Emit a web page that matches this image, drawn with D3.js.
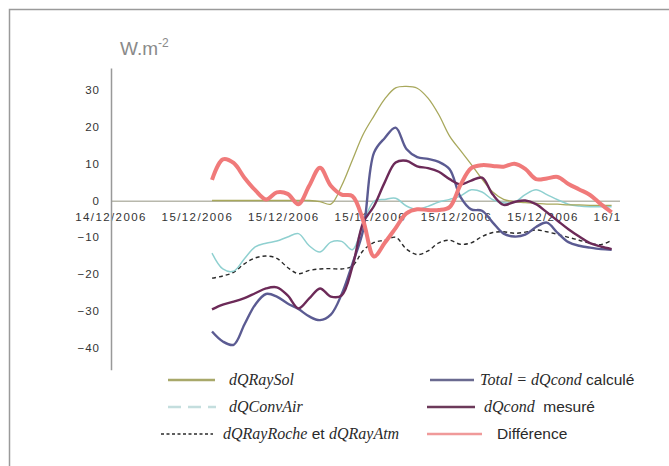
<!DOCTYPE html>
<html lang="fr">
<head>
<meta charset="UTF-8">
<title>dQ</title>
<script src="https://cdnjs.cloudflare.com/ajax/libs/d3/7.8.5/d3.min.js"></script>
<style>
  html, body { margin: 0; padding: 0; background: #fff; }
</style>
</head>
<body>
<div id="chart"></div>
<script>
// time in hours after the first tick (one tick every 4 h)
const hours = [4.7, 5.2, 5.7, 6.2, 6.7, 7.2, 7.7, 8.2, 8.7, 9.2, 9.7, 10.2, 10.7, 11.2, 11.7, 12.2, 12.7, 13.2, 13.7,
  14.2, 14.7, 15.2, 15.7, 16.2, 16.7, 17.2, 17.7, 18.2, 18.7, 19.2, 19.7, 20.2, 20.7, 21.2, 21.7, 22.2, 22.7, 23.2];

const raySol = [0, 0, 0, 0, 0, 0, 0, 0, 0, 0, -0.3, -1.0, 4.0, 11.0, 18.0, 23.0, 27.6, 30.6, 31.0, 30.5,
  27.8, 23.3, 17.5, 13.6, 9.8, 5.8, 2.3, 0.3, -0.3, -0.6, -0.8, -1.0, -1.0, -1.2, -1.2, -1.3, -1.3, -1.3];
const convAir = [-14.3, -18.6, -19.2, -15.8, -12.6, -11.6, -11.0, -9.9, -9.0, -12.3, -14.0, -11.3, -11.1, -13.4, -6.2, -0.2, 0.3, 0.6, -1.5, -2.4,
  -1.6, -0.4, 0.3, 1.2, 2.9, 2.3, 0.2, -0.6, -0.5, 1.6, 2.9, 1.6, 0.2, -1.0, -1.5, -1.7, -1.7, -1.7];
const rayRocheAtm = [-21.1, -20.5, -19.5, -17.2, -15.6, -15.1, -15.7, -18.2, -19.9, -19.0, -18.6, -18.5, -18.6, -17.8, -13.6, -11.4, -10.8, -10.0, -13.2, -14.7,
  -13.7, -11.5, -10.8, -11.9, -11.5, -9.8, -8.7, -8.5, -8.9, -8.6, -8.0, -8.5, -9.2, -10.0, -10.8, -11.6, -12.0, -10.8];
const totalCalc = [-35.6, -38.3, -39.2, -33.7, -28.3, -25.4, -26.1, -28.0, -29.5, -31.5, -32.5, -31.0, -25.5, -17.2, -8.0, 13.0, 17.0, 19.8, 14.0, 11.8,
  11.3, 10.5, 8.5, 1.0, -2.4, -2.8, -6.0, -9.0, -9.8, -9.3, -7.2, -6.0, -8.8, -11.3, -12.3, -12.8, -13.2, -13.4];
const condMesure = [-29.6, -28.3, -27.5, -26.5, -25.2, -23.9, -23.6, -25.8, -29.3, -26.6, -23.9, -26.1, -25.8, -18.0, -6.0, -1.5, 5.0, 10.3, 10.8, 9.3,
  8.8, 7.8, 5.8, 4.4, 5.4, 6.2, 1.6, -1.2, -0.4, 0.0, -1.0, -3.2, -5.5, -7.8, -9.8, -11.6, -12.5, -13.2];
const difference = [5.6, 11.2, 10.2, 6.2, 2.8, 0.3, 2.2, 1.8, -1.0, 4.0, 8.9, 4.0, 1.6, 1.2, -5.5, -15.2, -11.5, -7.5, -3.5, -2.4,
  -2.6, -2.6, -1.8, 4.2, 8.8, 9.6, 9.4, 9.2, 10.0, 8.6, 5.8, 6.0, 6.4, 4.5, 3.0, 1.5, -1.0, -3.2];

const tickHours = [0, 4, 8, 12, 16, 20, 24];
const tickLabels = ['14/12/2006', '15/12/2006', '15/12/2006', '15/12/2006', '15/12/2006', '15/12/2006', '16/12/2006'];
const yTicks = [30, 20, 10, 0, -10, -20, -30, -40];

const width = 669;
const height = 466;

const xScale = d3.scaleLinear().domain([0, 24]).range([110.5, 628.9]);
const yScale = d3.scaleLinear().domain([-46, 36]).range([369.8, 68]);

const svg = d3.select('#chart').append('svg')
  .attr('width', width)
  .attr('height', height)
  .style('display', 'block');

// frame (cropped on the right and bottom)
svg.append('path')
  .attr('d', `M9.5,${height} V9.5 H${width}`)
  .attr('fill', 'none')
  .attr('stroke', '#9a9a9a')
  .attr('stroke-width', 1.5);

svg.append('defs').append('clipPath').attr('id', 'cut')
  .append('rect').attr('x', 0).attr('y', 0).attr('width', 620).attr('height', height);

// unit
const unit = svg.append('text')
  .attr('x', 120).attr('y', 55)
  .attr('font-family', 'Liberation Sans, Arial, sans-serif')
  .attr('font-size', 19)
  .attr('fill', '#8a8a8a');
unit.append('tspan').text('W.m');
unit.append('tspan').attr('dy', -8).attr('font-size', 12).text('-2');

// axes
const gX = svg.append('g')
  .attr('transform', `translate(0, ${yScale(0)})`)
  .attr('clip-path', 'url(#cut)')
  .call(d3.axisBottom(xScale).tickValues(tickHours).tickSize(0).tickPadding(12)
    .tickFormat((d, i) => tickLabels[i]));
gX.select('.domain').attr('stroke', '#a0a090').attr('stroke-width', 1.3);
gX.selectAll('text')
  .attr('font-family', 'Liberation Sans, Arial, sans-serif')
  .attr('font-size', 11.5)
  .attr('letter-spacing', 1.4)
  .attr('fill', '#333');

const gY = svg.append('g')
  .attr('transform', 'translate(111, 0)')
  .call(d3.axisLeft(yScale).tickValues(yTicks).tickSize(0).tickPadding(11));
gY.select('.domain').attr('stroke', '#999').attr('stroke-width', 1.5);
gY.selectAll('text')
  .attr('font-family', 'Liberation Sans, Arial, sans-serif')
  .attr('font-size', 11.5)
  .attr('letter-spacing', 1)
  .attr('fill', '#333');

// series
const line = d3.line()
  .x((d, i) => xScale(hours[i]))
  .y(d => yScale(d))
  .curve(d3.curveCatmullRom.alpha(0.5));

const series = [
  {values: rayRocheAtm, color: '#2a2a2a', width: 1.4, dash: '4,3'},
  {values: convAir, color: '#8fd0d0', width: 1.5, dash: null},
  {values: raySol, color: '#a8a85c', width: 1.3, dash: null},
  {values: totalCalc, color: '#5b5b92', width: 2.4, dash: null},
  {values: condMesure, color: '#6c2a58', width: 2.4, dash: null},
  {values: difference, color: '#f07a7a', width: 4, dash: null}
];

svg.append('g').selectAll('path')
  .data(series)
  .enter().append('path')
  .attr('d', s => line(s.values))
  .attr('fill', 'none')
  .attr('stroke', s => s.color)
  .attr('stroke-width', s => s.width)
  .attr('stroke-dasharray', s => s.dash)
  .attr('stroke-linejoin', 'round');

// legend
const serif = 'Liberation Serif, Times New Roman, serif';
const sans = 'Liberation Sans, Arial, sans-serif';
const legend = [
  {x1: 168, x2: 215, y: 380, tx: 229, color: '#a8a86a', dash: null, parts: [['dQRaySol', 1]]},
  {x1: 168, x2: 216, y: 407, tx: 229, color: '#c4dede', dash: '13,7', parts: [['dQConvAir', 1]]},
  {x1: 161, x2: 213, y: 434, tx: 223, color: '#2a2a2a', dash: '3,2.5', parts: [['dQRayRoche', 1], [' et ', 0], ['dQRayAtm', 1]]},
  {x1: 430, x2: 474, y: 380, tx: 480, color: '#6a6a90', dash: null, parts: [['Total = dQcond', 1], [' calculé', 0]]},
  {x1: 427, x2: 475, y: 407, tx: 484, color: '#6c3a5a', dash: null, parts: [['dQcond', 1], ['  mesuré', 0]]},
  {x1: 427, x2: 482, y: 434, tx: 497, color: '#f09a9a', dash: null, parts: [['Différence', 0]]}
];

const gL = svg.append('g');
legend.forEach(l => {
  gL.append('line')
    .attr('x1', l.x1).attr('x2', l.x2)
    .attr('y1', l.y).attr('y2', l.y)
    .attr('stroke', l.color)
    .attr('stroke-width', l.dash === '3,2.5' ? 1.4 : 2.5)
    .attr('stroke-dasharray', l.dash);
  const t = gL.append('text')
    .attr('x', l.tx).attr('y', l.y + 5)
    .attr('font-size', 16)
    .attr('fill', '#2a2a2a')
    .attr('xml:space', 'preserve');
  l.parts.forEach(p => {
    t.append('tspan')
      .attr('font-family', p[1] ? serif : sans)
      .attr('font-style', p[1] ? 'italic' : 'normal')
      .attr('font-size', p[1] ? 16 : 15.5)
      .text(p[0]);
  });
});
</script>
</body>
</html>
